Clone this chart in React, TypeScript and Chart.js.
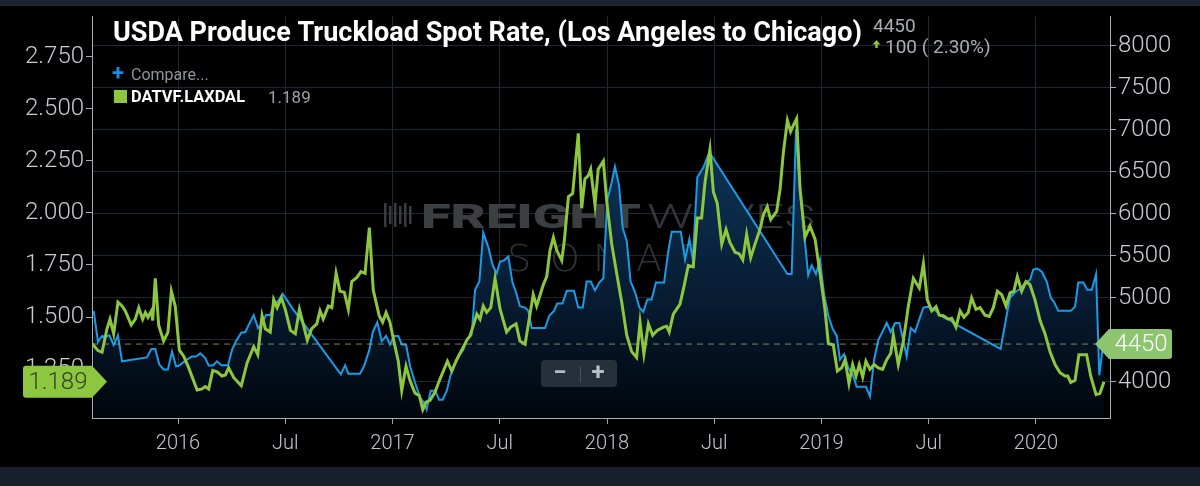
import React, { useEffect, useRef } from "react";
import { Chart, registerables } from "chart.js";

Chart.register(...registerables);

// ---- Data (x = decimal year) ----
const xTickValues = [2016, 2016.5, 2017, 2017.5, 2018, 2018.5, 2019, 2019.5, 2020];
const leftTickValues = [1.25, 1.5, 1.75, 2.0, 2.25, 2.5, 2.75];
const rightTickValues = [4000, 4500, 5000, 5500, 6000, 6500, 7000, 7500, 8000];

// DATVF.LAXDAL (left axis)
const greenDates = [
  2015.599, 2015.627, 2015.646, 2015.669, 2015.683, 2015.700, 2015.720, 2015.739, 2015.754, 2015.782,
  2015.801, 2015.817, 2015.835, 2015.848, 2015.860, 2015.876, 2015.882, 2015.894, 2015.910, 2015.933,
  2015.953, 2015.969, 2015.987, 2016.006, 2016.027, 2016.050, 2016.089, 2016.112, 2016.127, 2016.143,
  2016.162, 2016.182, 2016.205, 2016.221, 2016.236, 2016.260, 2016.295, 2016.322, 2016.353, 2016.372,
  2016.392, 2016.407, 2016.430, 2016.446, 2016.462, 2016.482, 2016.500, 2016.524, 2016.547, 2016.566,
  2016.603, 2016.623, 2016.647, 2016.662, 2016.677, 2016.701, 2016.717, 2016.737, 2016.755, 2016.775,
  2016.794, 2016.810, 2016.833, 2016.853, 2016.872, 2016.892, 2016.910, 2016.938, 2016.954, 2016.970,
  2016.988, 2017.007, 2017.027, 2017.043, 2017.063, 2017.082, 2017.105, 2017.125, 2017.141, 2017.156,
  2017.175, 2017.198, 2017.218, 2017.237, 2017.256, 2017.276, 2017.299, 2017.323, 2017.346, 2017.361,
  2017.377, 2017.393, 2017.408, 2017.423, 2017.439, 2017.458, 2017.478, 2017.501, 2017.532, 2017.551,
  2017.576, 2017.594, 2017.618, 2017.656, 2017.672, 2017.703, 2017.719, 2017.734, 2017.750, 2017.766,
  2017.789, 2017.801, 2017.820, 2017.840, 2017.866, 2017.882, 2017.897, 2017.913, 2017.924, 2017.944,
  2017.959, 2017.983, 2017.999, 2018.022, 2018.045, 2018.069, 2018.092, 2018.115, 2018.138, 2018.154,
  2018.172, 2018.193, 2018.213, 2018.234, 2018.263, 2018.278, 2018.290, 2018.309, 2018.340, 2018.359,
  2018.379, 2018.402, 2018.421, 2018.441, 2018.457, 2018.480, 2018.496, 2018.514, 2018.535, 2018.555,
  2018.573, 2018.597, 2018.617, 2018.633, 2018.651, 2018.670, 2018.690, 2018.713, 2018.729, 2018.747,
  2018.763, 2018.791, 2018.807, 2018.822, 2018.841, 2018.856, 2018.869, 2018.884, 2018.900, 2018.923,
  2018.946, 2018.970, 2018.993, 2019.016, 2019.032, 2019.055, 2019.074, 2019.094, 2019.110, 2019.128,
  2019.145, 2019.161, 2019.176, 2019.192, 2019.207, 2019.226, 2019.245, 2019.265, 2019.285, 2019.304,
  2019.323, 2019.335, 2019.358, 2019.381, 2019.405, 2019.428, 2019.456, 2019.475, 2019.493, 2019.514,
  2019.534, 2019.549, 2019.568, 2019.591, 2019.607, 2019.627, 2019.646, 2019.664, 2019.684, 2019.700,
  2019.720, 2019.739, 2019.762, 2019.782, 2019.801, 2019.820, 2019.840, 2019.860, 2019.879, 2019.897,
  2019.913, 2019.933, 2019.953, 2019.972, 2019.995, 2020.019, 2020.042, 2020.065, 2020.089, 2020.112,
  2020.135, 2020.148, 2020.162, 2020.182, 2020.200, 2020.236, 2020.255, 2020.280, 2020.298, 2020.317,
];
const greenValues = [
  1.373, 1.339, 1.331, 1.444, 1.49, 1.42, 1.572, 1.553, 1.53, 1.462,
  1.49, 1.545, 1.49, 1.522, 1.499, 1.53, 1.483, 1.686, 1.46, 1.385,
  1.428, 1.624, 1.553, 1.342, 1.311, 1.256, 1.15, 1.155, 1.166, 1.155,
  1.244, 1.237, 1.217, 1.222, 1.256, 1.209, 1.17, 1.28, 1.358, 1.319,
  1.506, 1.444, 1.428, 1.584, 1.545, 1.592, 1.537, 1.436, 1.42, 1.537,
  1.389, 1.444, 1.467, 1.53, 1.49, 1.553, 1.545, 1.71, 1.624, 1.619,
  1.537, 1.67, 1.689, 1.718, 1.71, 1.929, 1.631, 1.506, 1.475, 1.522,
  1.475, 1.381, 1.288, 1.147, 1.264, 1.194, 1.134, 1.123, 1.056, 1.092,
  1.1, 1.139, 1.194, 1.241, 1.288, 1.241, 1.295, 1.342, 1.389, 1.409,
  1.46, 1.514, 1.49, 1.553, 1.522, 1.545, 1.686, 1.54, 1.428, 1.452,
  1.467, 1.385, 1.369, 1.608, 1.553, 1.655, 1.694, 1.819, 1.882, 1.819,
  1.772, 1.866, 2.077, 2.093, 2.382, 2.022, 2.163, 2.179, 2.21, 2.038,
  2.21, 2.249, 2.053, 1.85, 1.71, 1.569, 1.413, 1.334, 1.306, 1.475,
  1.322, 1.467, 1.413, 1.436, 1.452, 1.456, 1.428, 1.514, 1.561, 1.647,
  1.748, 1.741, 1.976, 1.976, 2.147, 2.304, 2.1, 2.046, 1.85, 1.92,
  1.858, 1.811, 1.803, 1.775, 1.897, 1.785, 1.85, 1.92, 1.991, 2.03,
  1.968, 2.007, 2.116, 2.288, 2.444, 2.39, 2.421, 2.452, 2.116, 1.882,
  1.936, 1.874, 1.71, 1.537, 1.373, 1.366, 1.241, 1.256, 1.295, 1.181,
  1.272, 1.217, 1.272, 1.212, 1.288, 1.249, 1.272, 1.256, 1.249, 1.295,
  1.326, 1.413, 1.272, 1.381, 1.553, 1.686, 1.639, 1.756, 1.584, 1.53,
  1.55, 1.509, 1.506, 1.49, 1.494, 1.452, 1.53, 1.499, 1.522, 1.592,
  1.537, 1.545, 1.509, 1.503, 1.545, 1.624, 1.608, 1.553, 1.616, 1.624,
  1.694, 1.624, 1.67, 1.655, 1.584, 1.483, 1.42, 1.334, 1.272, 1.233,
  1.217, 1.217, 1.186, 1.197, 1.319, 1.319, 1.217, 1.128, 1.134, 1.189,
];

// USDA Produce Truckload Spot Rate (right axis)
const blueDates = [
  2015.607, 2015.627, 2015.646, 2015.661, 2015.680, 2015.700, 2015.720, 2015.739, 2015.855, 2015.876,
  2015.894, 2015.913, 2015.933, 2015.953, 2015.972, 2015.991, 2016.006, 2016.034, 2016.065, 2016.084,
  2016.104, 2016.127, 2016.143, 2016.162, 2016.182, 2016.202, 2016.233, 2016.252, 2016.270, 2016.295,
  2016.314, 2016.332, 2016.353, 2016.373, 2016.395, 2016.410, 2016.430, 2016.446, 2016.466, 2016.488,
  2016.508, 2016.531, 2016.759, 2016.779, 2016.794, 2016.848, 2016.867, 2016.892, 2016.908, 2016.929,
  2016.950, 2016.970, 2016.988, 2017.008, 2017.027, 2017.043, 2017.063, 2017.082, 2017.105, 2017.128,
  2017.147, 2017.159, 2017.178, 2017.198, 2017.218, 2017.234, 2017.253, 2017.271, 2017.291, 2017.311,
  2017.330, 2017.349, 2017.369, 2017.385, 2017.405, 2017.423, 2017.447, 2017.467, 2017.486, 2017.501,
  2017.520, 2017.540, 2017.559, 2017.577, 2017.594, 2017.618, 2017.633, 2017.649, 2017.711, 2017.731,
  2017.753, 2017.768, 2017.793, 2017.812, 2017.846, 2017.866, 2017.887, 2017.905, 2017.924, 2017.944,
  2017.964, 2017.983, 2018.001, 2018.022, 2018.037, 2018.056, 2018.073, 2018.092, 2018.110, 2018.131,
  2018.151, 2018.169, 2018.188, 2018.208, 2018.228, 2018.266, 2018.286, 2018.302, 2018.344, 2018.364,
  2018.384, 2018.400, 2018.421, 2018.449, 2018.477, 2018.841, 2018.861, 2018.881, 2018.900, 2018.918,
  2018.938, 2018.954, 2018.974, 2018.993, 2019.012, 2019.032, 2019.052, 2019.071, 2019.086, 2019.105,
  2019.125, 2019.145, 2019.164, 2019.207, 2019.226, 2019.245, 2019.265, 2019.285, 2019.304, 2019.323,
  2019.343, 2019.363, 2019.381, 2019.397, 2019.416, 2019.436, 2019.459, 2019.475, 2019.498, 2019.514,
  2019.534, 2019.552, 2019.576, 2019.596, 2019.622, 2019.835, 2019.860, 2019.879, 2019.902, 2019.925,
  2019.949, 2019.972, 2019.987, 2020.006, 2020.027, 2020.050, 2020.069, 2020.084, 2020.104, 2020.162,
  2020.182, 2020.197, 2020.221, 2020.239, 2020.260, 2020.280, 2020.295, 2020.308, 2020.317,
];
const blueValues = [
  4845, 4477, 4547, 4535, 4555, 4438, 4555, 4244, 4291, 4392,
  4392, 4206, 4148, 4148, 4361, 4186, 4194, 4252, 4302, 4302,
  4341, 4283, 4194, 4194, 4244, 4198, 4198, 4380, 4485, 4585,
  4593, 4690, 4795, 4640, 4709, 4795, 4795, 4922, 4961, 5047,
  4973, 4884, 4089, 4198, 4097, 4097, 4186, 4380, 4593, 4709,
  4485, 4547, 4446, 4547, 4547, 4446, 4446, 4186, 3992, 3817,
  3748, 3671, 3895, 3895, 3787, 3787, 3895, 4081, 4206, 4322,
  4380, 4515, 4562, 5097, 5194, 5776, 5601, 5387, 5291, 5430,
  5446, 5492, 5185, 5058, 4900, 4884, 4845, 4640, 4640, 4787,
  4845, 4934, 4934, 5085, 5085, 4884, 4884, 5194, 5194, 5089,
  5182, 5233, 6163, 6376, 6562, 6338, 5834, 5679, 5194, 5066,
  4884, 4834, 4980, 4980, 5182, 5182, 5562, 5787, 5787, 5454,
  5698, 5454, 6434, 6550, 6733, 5283, 5283, 6996, 6260, 5795,
  5271, 5387, 5283, 5454, 5039, 4787, 4632, 4547, 4264, 4329,
  4167, 4089, 3942, 3942, 3826, 4264, 4497, 4601, 4701, 4593,
  4701, 4701, 4497, 4302, 4640, 4593, 4768, 4884, 4895, 4864,
  4845, 4795, 4760, 4740, 4690, 4392, 4748, 5000, 5066, 5105,
  5175, 5213, 5337, 5349, 5310, 5194, 5000, 4950, 4845, 4845,
  4895, 5182, 5182, 5097, 5097, 5283, 4080, 4350, 4450,
];

const TITLE = "USDA Produce Truckload Spot Rate, (Los Angeles to Chicago)";
const USDA_LAST = 4450;
const USDA_CHANGE = "100 ( 2.30%)";
const DAT_NAME = "DATVF.LAXDAL";
const DAT_LAST = 1.189;

const GREEN = "#8dc63f";
const BLUE = "#1a9be6";
const FONT = "Roboto, 'Noto Sans', sans-serif";

function roundRectPath(ctx: CanvasRenderingContext2D, x: number, y: number, w: number, h: number, r: number) {
  ctx.beginPath();
  ctx.moveTo(x + r, y);
  ctx.lineTo(x + w - r, y);
  ctx.quadraticCurveTo(x + w, y, x + w, y + r);
  ctx.lineTo(x + w, y + h - r);
  ctx.quadraticCurveTo(x + w, y + h, x + w - r, y + h);
  ctx.lineTo(x + r, y + h);
  ctx.quadraticCurveTo(x, y + h, x, y + h - r);
  ctx.lineTo(x, y + r);
  ctx.quadraticCurveTo(x, y, x + r, y);
  ctx.closePath();
}

function fitText(ctx: CanvasRenderingContext2D, text: string, x: number, y: number, width: number) {
  const w = ctx.measureText(text).width;
  const sx = w > 0 ? width / w : 1;
  ctx.save();
  ctx.translate(x, y);
  ctx.scale(sx, 1);
  ctx.fillText(text, 0, 0);
  ctx.restore();
}

const overlayPlugin = {
  id: "overlay",
  beforeDraw(chart: any) {
    const { ctx, width, height } = chart;
    ctx.save();
    ctx.fillStyle = "#000000";
    ctx.fillRect(0, 0, width, height);
    ctx.fillStyle = "#1a2430";
    ctx.fillRect(0, 0, width, 6);
    ctx.fillStyle = "#18212b";
    ctx.fillRect(0, 467, width, height - 467);
    ctx.restore();
  },
  beforeDatasetsDraw(chart: any) {
    const { ctx, chartArea } = chart;
    const cx = (chartArea.left + chartArea.right) / 2;
    ctx.save();
    // logo bars
    ctx.fillStyle = "#3a3d40";
    const lx = cx - 217;
    for (let i = 0; i < 6; i++) {
      const h = i % 2 === 0 ? 24 : 18;
      ctx.fillRect(lx + i * 5, 203 + (24 - h) / 2, 2.5, h);
    }
    ctx.textBaseline = "alphabetic";
    ctx.fillStyle = "#3c3f42";
    ctx.font = `900 33px ${FONT}`;
    fitText(ctx, "FREIGHT", cx - 180, 228, 220);
    ctx.fillStyle = "#34373a";
    ctx.font = `300 33px ${FONT}`;
    fitText(ctx, "WAVES", cx + 46, 228, 168);
    ctx.font = `200 38px 'DejaVu Sans', ${FONT}`;
    ctx.fillStyle = "#303336";
    const letters = ["S", "O", "N", "A", "R"];
    letters.forEach((l, i) => {
      ctx.fillText(l, cx - 94 + i * 43, 271);
    });
    ctx.restore();
  },
  afterDatasetsDraw(chart: any) {
    const { ctx, chartArea, scales } = chart;
    const y = scales.y1.getPixelForValue(USDA_LAST);
    ctx.save();
    ctx.strokeStyle = "rgba(150,185,130,0.75)";
    ctx.lineWidth = 1;
    ctx.setLineDash([6, 5]);
    ctx.beginPath();
    ctx.moveTo(chartArea.left, y);
    ctx.lineTo(chartArea.right - 14, y);
    ctx.stroke();
    ctx.restore();
  },
  afterDraw(chart: any) {
    const { ctx, chartArea, scales } = chart;
    ctx.save();
    ctx.textBaseline = "alphabetic";
    ctx.textAlign = "left";

    // Title
    ctx.fillStyle = "#ffffff";
    ctx.font = `bold 28px ${FONT}`;
    fitText(ctx, TITLE, 113, 41, 749);

    // Last value / change
    ctx.fillStyle = "#a8aeb4";
    ctx.font = `19px ${FONT}`;
    ctx.fillText(String(USDA_LAST), 873, 32);
    ctx.fillStyle = GREEN;
    ctx.beginPath();
    ctx.moveTo(876.5, 40);
    ctx.lineTo(880.5, 44.5);
    ctx.lineTo(872.5, 44.5);
    ctx.closePath();
    ctx.fill();
    ctx.fillRect(875.3, 44, 2.4, 4);
    ctx.fillStyle = "#a8aeb4";
    ctx.fillText(USDA_CHANGE, 885, 53);

    // Legend
    ctx.fillStyle = "#1e88e5";
    ctx.font = `bold 22px ${FONT}`;
    ctx.fillText("+", 112, 80);
    ctx.fillStyle = "#8e959b";
    ctx.font = `16px ${FONT}`;
    ctx.fillText("Compare...", 131, 80);
    ctx.fillStyle = GREEN;
    ctx.fillRect(114, 90, 13, 13);
    ctx.fillStyle = "#ffffff";
    ctx.font = `bold 16px ${FONT}`;
    fitText(ctx, DAT_NAME, 131, 102, 114);
    ctx.fillStyle = "#9aa0a5";
    ctx.font = `17px ${FONT}`;
    ctx.fillText(DAT_LAST.toFixed(3), 268, 103);

    // Left last-value label
    const ly = scales.y.getPixelForValue(DAT_LAST);
    ctx.fillStyle = GREEN;
    ctx.beginPath();
    ctx.moveTo(26, ly - 16);
    ctx.lineTo(92, ly - 16);
    ctx.lineTo(107, ly);
    ctx.lineTo(92, ly + 16);
    ctx.lineTo(26, ly + 16);
    ctx.quadraticCurveTo(23, ly + 16, 23, ly + 13);
    ctx.lineTo(23, ly - 13);
    ctx.quadraticCurveTo(23, ly - 16, 26, ly - 16);
    ctx.closePath();
    ctx.fill();
    ctx.fillStyle = "#334222";
    ctx.font = `300 24px ${FONT}`;
    ctx.textAlign = "center";
    ctx.textBaseline = "middle";
    ctx.fillText(DAT_LAST.toFixed(3), 58, ly + 1);

    // Right last-value label
    const ry = scales.y1.getPixelForValue(USDA_LAST);
    ctx.fillStyle = "#8cc56e";
    ctx.beginPath();
    ctx.moveTo(chartArea.right - 15, ry);
    ctx.lineTo(chartArea.right - 1, ry - 15);
    ctx.lineTo(1169, ry - 15);
    ctx.quadraticCurveTo(1172, ry - 15, 1172, ry - 12);
    ctx.lineTo(1172, ry + 12);
    ctx.quadraticCurveTo(1172, ry + 15, 1169, ry + 15);
    ctx.lineTo(chartArea.right - 1, ry + 15);
    ctx.closePath();
    ctx.fill();
    ctx.fillStyle = "#ffffff";
    ctx.fillText(String(USDA_LAST), 1141, ry + 1);

    // Zoom buttons
    ctx.fillStyle = "#25303a";
    roundRectPath(ctx, 541, 360, 76, 27, 4);
    ctx.fill();
    ctx.strokeStyle = "#46515c";
    ctx.lineWidth = 1;
    ctx.beginPath();
    ctx.moveTo(580.5, 366);
    ctx.lineTo(580.5, 382);
    ctx.stroke();
    ctx.fillStyle = "#b8bec4";
    ctx.font = `bold 24px ${FONT}`;
    ctx.fillText("\u2212", 560, 374);
    ctx.fillText("+", 598, 374);

    ctx.restore();
  },
};

export default function App() {
  const canvasRef = useRef<HTMLCanvasElement | null>(null);

  useEffect(() => {
    if (!canvasRef.current) return;
    const greenData = greenDates.map((d, i) => ({ x: d, y: greenValues[i] }));
    const blueData = blueDates.map((d, i) => ({ x: d, y: blueValues[i] }));

    const chart = new Chart(canvasRef.current, {
      type: "line",
      data: {
        datasets: [
          {
            label: DAT_NAME,
            data: greenData,
            yAxisID: "y",
            borderColor: GREEN,
            borderWidth: 3,
            pointRadius: 0,
            tension: 0,
            fill: false,
            order: 0,
          },
          {
            label: "USDA",
            data: blueData,
            yAxisID: "y1",
            borderColor: BLUE,
            borderWidth: 2,
            pointRadius: 0,
            tension: 0,
            fill: "start",
            order: 1,
            backgroundColor: (c: any) => {
              const area = c.chart.chartArea;
              if (!area) return "rgba(12,43,74,0.8)";
              const g = c.chart.ctx.createLinearGradient(0, area.top, 0, area.bottom);
              g.addColorStop(0, "#134273");
              g.addColorStop(0.47, "#0c2b4a");
              g.addColorStop(0.71, "#071b31");
              g.addColorStop(1, "#01060c");
              return g;
            },
          },
        ],
      },
      options: {
        animation: false,
        responsive: true,
        maintainAspectRatio: false,
        layout: { padding: { top: 7, left: 0, right: 0, bottom: 0 } },
        plugins: {
          legend: { display: false },
          tooltip: { enabled: false },
          title: { display: false },
        },
        scales: {
          x: {
            type: "linear",
            min: 2015.599,
            max: 2020.345,
            afterBuildTicks: (s: any) => {
              s.ticks = xTickValues.map((v) => ({ value: v }));
            },
            afterFit: (s: any) => {
              s.height = 68;
            },
            ticks: {
              autoSkip: false,
              maxRotation: 0,
              padding: 8,
              color: "#c2c6ca",
              font: { family: FONT, size: 20, weight: "300" },
              callback: (v: any) => (Number.isInteger(v) ? String(v) : "Jul"),
            },
            grid: { color: "#1b2835", tickColor: "#9ca2a8", tickLength: 6, lineWidth: 1 },
            border: { color: "#a9aeb3", width: 1 },
          },
          y: {
            position: "left",
            min: 1.0155,
            max: 2.943,
            afterBuildTicks: (s: any) => {
              s.ticks = leftTickValues.map((v) => ({ value: v }));
            },
            afterFit: (s: any) => {
              s.width = 92;
            },
            ticks: {
              padding: 2,
              color: "#c8ccd0",
              font: { family: FONT, size: 24, weight: "300" },
              callback: (v: any) => Number(v).toFixed(3),
            },
            grid: { drawOnChartArea: false, tickColor: "#a9aeb3", tickLength: 6 },
            border: { color: "#a9aeb3", width: 1 },
          },
          y1: {
            position: "right",
            min: 3570,
            max: 8349,
            afterBuildTicks: (s: any) => {
              s.ticks = rightTickValues.map((v) => ({ value: v }));
            },
            afterFit: (s: any) => {
              s.width = 90;
            },
            ticks: {
              padding: 2,
              color: "#c8ccd0",
              font: { family: FONT, size: 24, weight: "300" },
              callback: (v: any) => String(v),
            },
            grid: { color: "#1b2835", tickColor: "#a9aeb3", tickLength: 6 },
            border: { color: "#a9aeb3", width: 1 },
          },
        },
      } as any,
      plugins: [overlayPlugin],
    });
    return () => chart.destroy();
  }, []);

  return (
    <div
      style={{
        position: "fixed",
        left: 0,
        top: 0,
        width: 1200,
        height: 486,
        background: "#000",
      }}
    >
      <canvas ref={canvasRef} />
    </div>
  );
}
